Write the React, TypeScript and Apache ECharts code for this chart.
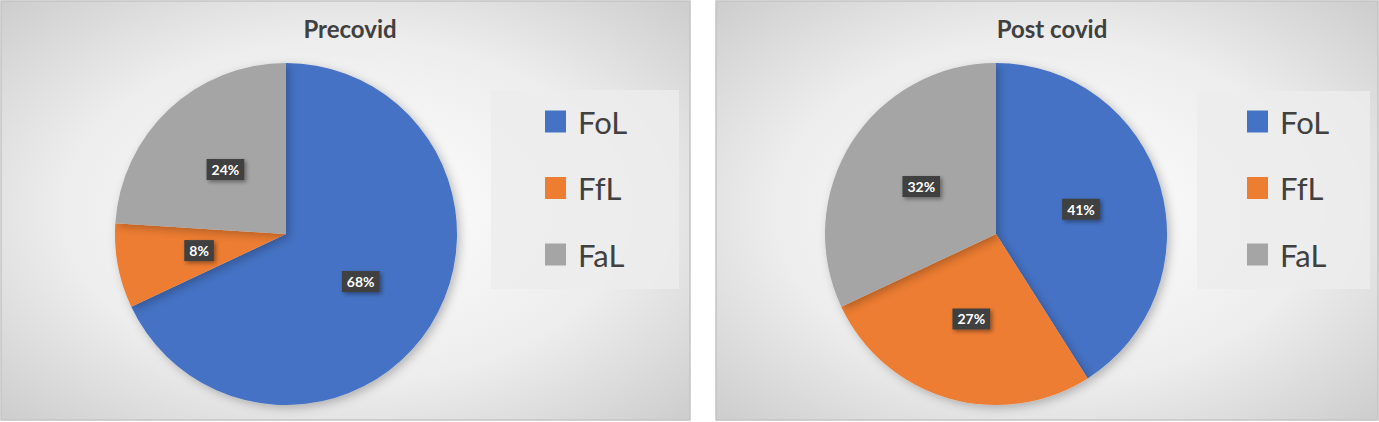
import React, { useEffect, useRef } from 'react';
import * as echarts from 'echarts';

const categories = ['FoL', 'FfL', 'FaL'];
const precovidValues = [68, 8, 24];
const postcovidValues = [41, 27, 32];
const titles = ['Precovid', 'Post covid'];
const colors = ['#4472C4', '#ED7D31', '#A5A5A5'];

const FONT = 'Lato, "Noto Sans", sans-serif';

const panelFill = () =>
    new echarts.graphic.RadialGradient(0.5, 0.5, 0.75, [
        { offset: 0, color: '#ffffff' },
        { offset: 0.55, color: '#ededed' },
        { offset: 1, color: '#c8c8c8' },
    ]);

const pieSeries = (values: number[], cx: number) => ({
    type: 'pie',
    center: [cx, 234],
    radius: 171,
    startAngle: 90,
    clockwise: true,
    data: categories.map((name, i) => ({ name, value: values[i] })),
    itemStyle: {
        shadowBlur: 10,
        shadowOffsetX: 3,
        shadowOffsetY: 3,
        shadowColor: 'rgba(0,0,0,0.25)',
    },
    label: {
        show: true,
        position: 'inside',
        formatter: '{c}%',
        color: '#ffffff',
        fontWeight: 'bold',
        fontSize: 14,
        fontFamily: FONT,
        backgroundColor: '#404040',
        padding: [4, 5, 3, 5],
        shadowBlur: 4,
        shadowOffsetX: 2,
        shadowOffsetY: 2,
        shadowColor: 'rgba(0,0,0,0.4)',
    },
    labelLine: { show: false },
    emphasis: { disabled: true },
});

const legendAt = (left: number) => ({
    orient: 'vertical',
    left,
    top: 106,
    padding: 0,
    icon: 'rect',
    itemWidth: 21,
    itemHeight: 22,
    itemGap: 35.5,
    selectedMode: false,
    data: categories,
    textStyle: {
        fontSize: 31,
        fontFamily: FONT,
        color: '#404040',
        padding: [0, 0, 0, 7],
    },
});

const App: React.FC = () => {
    const chartRef = useRef<HTMLDivElement>(null);

    useEffect(() => {
        if (!chartRef.current) return;
        const chart = echarts.init(chartRef.current, undefined, { renderer: 'svg' });
        chart.setOption({
            animation: false,
            color: colors,
            title: [
                {
                    text: titles[0],
                    left: 345,
                    top: 11,
                    textAlign: 'center',
                    textStyle: { fontSize: 24, fontWeight: 'bold', color: '#404040', fontFamily: FONT },
                },
                {
                    text: titles[1],
                    left: 1047,
                    top: 11,
                    textAlign: 'center',
                    textStyle: { fontSize: 24, fontWeight: 'bold', color: '#404040', fontFamily: FONT },
                },
            ],
            graphic: [
                {
                    type: 'rect',
                    z: -10,
                    shape: { x: 1, y: 1, width: 689, height: 419 },
                    style: { fill: panelFill(), stroke: '#c4c4c4', lineWidth: 1.5 },
                },
                {
                    type: 'rect',
                    z: -10,
                    shape: { x: 716, y: 1, width: 662, height: 419 },
                    style: { fill: panelFill(), stroke: '#c4c4c4', lineWidth: 1.5 },
                },
                {
                    type: 'rect',
                    z: -5,
                    shape: { x: 491, y: 90, width: 188, height: 199 },
                    style: { fill: 'rgba(236,236,236,0.85)' },
                },
                {
                    type: 'rect',
                    z: -5,
                    shape: { x: 1197, y: 91, width: 173, height: 198 },
                    style: { fill: 'rgba(236,236,236,0.85)' },
                },
            ],
            legend: [legendAt(545), legendAt(1247)],
            series: [pieSeries(precovidValues, 286), pieSeries(postcovidValues, 996)],
        });
        return () => {
            chart.dispose();
        };
    }, []);

    return (
        <div
            ref={chartRef}
            style={{ position: 'fixed', left: 0, top: 0, width: '1379px', height: '422px', background: '#ffffff' }}
        />
    );
};

export default App;
